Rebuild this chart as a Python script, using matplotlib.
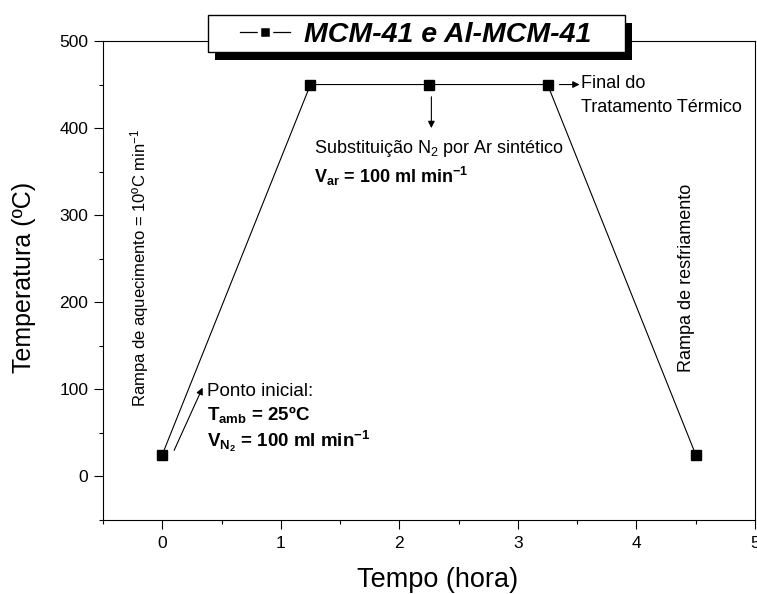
import matplotlib
matplotlib.use("Agg")
import matplotlib.pyplot as plt
from matplotlib.patches import Rectangle
from matplotlib.lines import Line2D
from matplotlib.ticker import MultipleLocator

plt.rcParams['font.family'] = ['Liberation Sans', 'DejaVu Sans']
plt.rcParams['mathtext.fontset'] = 'custom'
plt.rcParams['mathtext.rm'] = 'Liberation Sans'
plt.rcParams['mathtext.bf'] = 'Liberation Sans:bold'
plt.rcParams['mathtext.it'] = 'Liberation Sans:italic'

# Data
tempo = [0, 1.25, 2.25, 3.25, 4.5]
temperatura = [25, 450, 450, 450, 25]
series_label = "MCM-41 e Al-MCM-41"
xticks = [0, 1, 2, 3, 4, 5]
yticks = [0, 100, 200, 300, 400, 500]

W, H = 757, 594
fig = plt.figure(figsize=(W / 100, H / 100), dpi=100)
ax = fig.add_axes([103 / W, 1 - 520 / H, (755 - 103) / W, (520 - 41) / H])

ax.plot(tempo, temperatura, '-', color='black', lw=0.8, marker='s',
        markersize=7.5, markerfacecolor='black', zorder=3)

ax.set_xlim(-0.5, 5)
ax.set_ylim(-50, 500)
ax.set_xticks(xticks)
ax.set_yticks(yticks)
ax.xaxis.set_minor_locator(MultipleLocator(0.5))
ax.yaxis.set_minor_locator(MultipleLocator(50))
ax.tick_params(which='major', direction='out', length=6.5, width=0.8, labelsize=12.5)
ax.tick_params(axis='y', which='major', pad=4)
ax.tick_params(axis='x', which='major', pad=5)
ax.tick_params(which='minor', direction='out', length=3, width=0.8)
for s in ax.spines.values():
    s.set_linewidth(0.8)

ax.set_xlabel("Tempo (hora)", fontsize=19.5, va='center')
ax.xaxis.set_label_coords((438 - 103) / 652, (520 - 580) / 479)
ax.set_ylabel("Temperatura (ºC)", fontsize=18, va='center')
ax.yaxis.set_label_coords((24 - 103) / 652, (520 - 277) / 479)

# Legend box with black shadow (drawn in figure pixels)
bx0, bx1, by0, by1 = 208, 625, 15, 52
fig.patches.append(Rectangle((bx0 + 7, H - by1 - 8), bx1 - bx0, by1 - by0,
                             transform=None, facecolor='black', edgecolor='none',
                             zorder=5))
fig.patches.append(Rectangle((bx0, H - by1), bx1 - bx0, by1 - by0,
                             transform=None, facecolor='white', edgecolor='black',
                             lw=1.0, zorder=5.1))
proxy = Line2D([], [], color='black', lw=0.9, marker='s', markersize=9,
               markerfacecolor='black', markeredgecolor='white', markeredgewidth=2.5)
leg = fig.legend([proxy], [series_label], loc='center left',
                 bbox_to_anchor=(240 / W, 1 - 35 / H), frameon=False,
                 handlelength=1.75, handletextpad=0.5, borderpad=0, borderaxespad=0,
                 prop={'weight': 'bold', 'style': 'italic', 'size': 20.5})
leg.set_zorder(6)

fs = 13
# Annotations
ax.text(-0.19, 240, "Rampa de aquecimento = 10ºC min$^{-1}$", rotation=90,
        ha='center', va='center', fontsize=12)
ax.text(4.42, 228, "Rampa de resfriamento", rotation=90, ha='center', va='center',
        fontsize=13)

arrowprops = dict(arrowstyle='-|>', color='black', lw=0.8, mutation_scale=10,
                  shrinkA=0, shrinkB=0)
ax.annotate("", xy=(0.34, 102), xytext=(0.10, 30), arrowprops=arrowprops)
ax.annotate("", xy=(2.27, 400), xytext=(2.27, 436), arrowprops=arrowprops)
ax.annotate("", xy=(3.52, 450), xytext=(3.35, 450), arrowprops=arrowprops)

ax.text(0.38, 92, "Ponto inicial:", fontsize=13.5, ha='left', va='baseline')
ax.text(0.38, 65, r"$\mathbf{T_{amb}}$ = 25ºC", fontsize=13.5, fontweight='bold',
        ha='left', va='baseline')
ax.text(0.38, 34, r"$\mathbf{V_{N_2}}$ = 100 ml min$\mathbf{^{-1}}$", fontsize=13.5,
        fontweight='bold', ha='left', va='baseline')

ax.text(3.53, 446, "Final do", fontsize=fs, ha='left', va='baseline')
ax.text(3.53, 418.6, "Tratamento Térmico", fontsize=fs, ha='left', va='baseline')
ax.text(1.28, 371, r"Substituição N$_2$ por Ar sintético", fontsize=fs, ha='left',
        va='baseline')
ax.text(1.28, 337, r"$\mathbf{V_{ar}}$ = 100 ml min$\mathbf{^{-1}}$", fontsize=fs,
        fontweight='bold', ha='left', va='baseline')

fig.savefig("out.png", dpi=100)
